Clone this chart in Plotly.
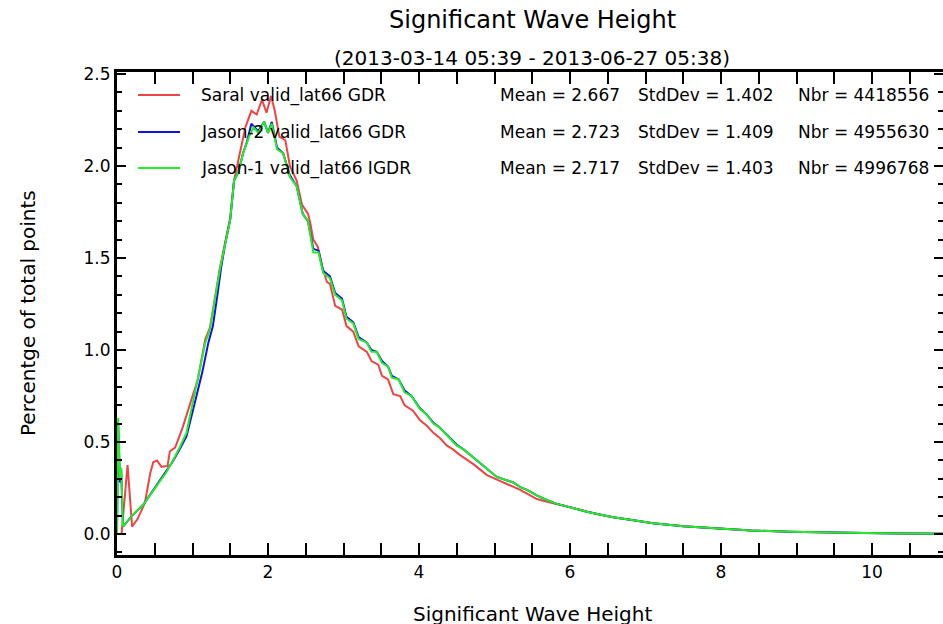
import plotly.graph_objects as go

# ---------------- data ----------------
saral_x = [0.0, 0.06, 0.14, 0.2, 0.27, 0.37, 0.44, 0.48, 0.53, 0.59, 0.67, 0.70, 0.77, 0.87, 0.97,
           1.07, 1.17, 1.23, 1.30, 1.36, 1.43, 1.50, 1.55, 1.62, 1.70, 1.78, 1.85, 1.92, 1.98, 2.04,
           2.09, 2.15, 2.23, 2.29, 2.38, 2.45, 2.53, 2.56, 2.60, 2.66, 2.72, 2.78, 2.82, 2.89, 2.98,
           3.04, 3.13, 3.20, 3.31, 3.37, 3.46, 3.51, 3.59, 3.66, 3.75, 3.81, 3.92, 4.01, 4.10, 4.19,
           4.28, 4.37, 4.45, 4.54, 4.63, 4.72, 4.81, 4.90, 5.01, 5.12, 5.23, 5.34, 5.45, 5.56, 5.67,
           5.78, 5.96, 6.1, 6.22, 6.4, 6.57, 6.8, 7.1, 7.5, 8.0, 8.4, 8.9, 9.4, 9.9, 10.4, 10.95]
saral_y = [0.0, 0.0, 0.375, 0.04, 0.08, 0.17, 0.33, 0.39, 0.40, 0.365, 0.37, 0.45, 0.47, 0.58, 0.71,
           0.84, 1.06, 1.12, 1.29, 1.44, 1.58, 1.72, 1.92, 2.06, 2.21, 2.30, 2.28, 2.36, 2.29, 2.38,
           2.30, 2.16, 2.14, 2.00, 1.92, 1.79, 1.74, 1.69, 1.60, 1.56, 1.45, 1.37, 1.36, 1.24, 1.22,
           1.13, 1.10, 1.02, 0.99, 0.94, 0.92, 0.86, 0.84, 0.76, 0.75, 0.70, 0.67, 0.62, 0.59, 0.55,
           0.52, 0.48, 0.46, 0.43, 0.405, 0.38, 0.35, 0.32, 0.30, 0.28, 0.26, 0.24, 0.215, 0.19, 0.178,
           0.167, 0.148, 0.135, 0.121, 0.105, 0.091, 0.077, 0.058, 0.042, 0.027, 0.019, 0.013, 0.008, 0.005, 0.003, 0.002]

jason2_x = [0.0, 0.015, 0.04, 0.055, 0.08, 0.2, 0.35, 0.45, 0.57, 0.66, 0.74, 0.83, 0.92, 1.01,
            1.08, 1.13, 1.21, 1.27, 1.33, 1.38, 1.43, 1.50, 1.55, 1.61, 1.67, 1.72, 1.78, 1.87, 1.95,
            2.00, 2.05, 2.12, 2.20, 2.29, 2.38, 2.46, 2.53, 2.56, 2.60, 2.67, 2.73, 2.82, 2.89, 2.98,
            3.04, 3.13, 3.20, 3.31, 3.37, 3.44, 3.51, 3.59, 3.64, 3.73, 3.81, 3.90, 4.01, 4.10, 4.19,
            4.27, 4.34, 4.42, 4.50, 4.59, 4.68, 4.77, 4.85, 4.94, 5.03, 5.14, 5.25, 5.34, 5.43, 5.56,
            5.69, 5.82, 5.96, 6.1, 6.22, 6.4, 6.57, 6.8, 7.1, 7.5, 8.0, 8.4, 8.9, 9.4, 9.9, 10.4, 10.95]
jason2_y = [0.0, 0.60, 0.28, 0.35, 0.04, 0.10, 0.16, 0.22, 0.29, 0.34, 0.395, 0.46, 0.53, 0.68,
            0.79, 0.88, 1.04, 1.13, 1.30, 1.45, 1.57, 1.71, 1.92, 1.97, 2.07, 2.13, 2.23, 2.19, 2.24,
            2.18, 2.24, 2.10, 2.07, 1.95, 1.89, 1.74, 1.70, 1.63, 1.55, 1.54, 1.43, 1.40, 1.31, 1.28,
            1.18, 1.15, 1.07, 1.04, 1.00, 0.99, 0.94, 0.91, 0.86, 0.84, 0.78, 0.75, 0.685, 0.65, 0.605,
            0.58, 0.55, 0.52, 0.485, 0.46, 0.43, 0.40, 0.37, 0.345, 0.31, 0.295, 0.28, 0.255, 0.24, 0.21,
            0.185, 0.165, 0.148, 0.135, 0.121, 0.105, 0.091, 0.077, 0.058, 0.042, 0.027, 0.019, 0.013, 0.008, 0.005, 0.003, 0.002]

jason1_x = [0.0, 0.015, 0.04, 0.055, 0.08, 0.2, 0.35, 0.45, 0.57, 0.66, 0.74, 0.83, 0.92, 1.01,
            1.07, 1.17, 1.23, 1.30, 1.36, 1.43, 1.50, 1.55, 1.61, 1.67, 1.76, 1.81, 1.87, 1.95, 2.00,
            2.05, 2.12, 2.20, 2.29, 2.38, 2.46, 2.53, 2.56, 2.60, 2.67, 2.73, 2.82, 2.89, 2.98, 3.04,
            3.13, 3.20, 3.31, 3.37, 3.44, 3.51, 3.59, 3.64, 3.73, 3.81, 3.90, 4.01, 4.10, 4.19, 4.27,
            4.34, 4.42, 4.50, 4.59, 4.68, 4.77, 4.85, 4.94, 5.03, 5.14, 5.25, 5.34, 5.43, 5.56, 5.69,
            5.82, 5.96, 6.1, 6.22, 6.4, 6.57, 6.8, 7.1, 7.5, 8.0, 8.4, 8.9, 9.4, 9.9, 10.4, 10.95]
jason1_y = [0.0, 0.63, 0.30, 0.36, 0.04, 0.10, 0.16, 0.22, 0.29, 0.34, 0.40, 0.47, 0.55, 0.73,
            0.84, 1.04, 1.11, 1.29, 1.43, 1.57, 1.71, 1.92, 1.97, 2.07, 2.17, 2.21, 2.18, 2.24, 2.18,
            2.23, 2.09, 2.07, 1.94, 1.89, 1.74, 1.70, 1.63, 1.53, 1.53, 1.42, 1.39, 1.30, 1.27, 1.17,
            1.145, 1.06, 1.04, 0.99, 0.99, 0.93, 0.91, 0.85, 0.84, 0.77, 0.75, 0.68, 0.65, 0.60, 0.58,
            0.55, 0.52, 0.48, 0.46, 0.43, 0.40, 0.37, 0.345, 0.31, 0.295, 0.28, 0.255, 0.24, 0.21, 0.185,
            0.165, 0.148, 0.135, 0.121, 0.105, 0.091, 0.077, 0.058, 0.042, 0.027, 0.019, 0.013, 0.008, 0.005, 0.003, 0.002]

series_names = ["Saral valid_lat66 GDR", "Jason-2 valid_lat66 GDR", "Jason-1 valid_lat66 IGDR"]
series_mean = ["2.667", "2.723", "2.717"]
series_std = ["1.402", "1.409", "1.403"]
series_nbr = ["4418556", "4955630", "4996768"]
colors = ["#f04444", "#1010f0", "#22ee22"]

xs = [saral_x, jason2_x, jason1_x]
ys = [saral_y, jason2_y, jason1_y]
yaxes = ["y", "y", "y2"]   # the top-most series also carries the right-hand (tick-only) axis

W, H = 943, 624
ML, MR, MT, MB = 117, 0, 72, 69
FONT = "DejaVu Sans"
X_RANGE = [0, 10.94]
Y_RANGE = [-0.114, 2.511]

fig = go.Figure()
for x, y, n, c, ya in zip(xs, ys, series_names, colors, yaxes):
    fig.add_trace(go.Scatter(x=x, y=y, mode="lines", name=n, yaxis=ya,
                             line=dict(color=c, width=2), showlegend=False))

pw = W - ML - MR
ph = H - MT - MB
def px2paper_x(px):
    return (px - ML) / pw
def px2paper_y(py):
    return (H - MB - py) / ph

# legend rows
row_y = [95, 132, 168]
for i in range(3):
    yy = px2paper_y(row_y[i])
    fig.add_shape(type="line", xref="paper", yref="paper",
                  x0=px2paper_x(138), x1=px2paper_x(180), y0=yy, y1=yy,
                  line=dict(color=colors[i], width=2))
    fig.add_annotation(xref="paper", yref="paper", x=px2paper_x(199), y=yy,
                       text=series_names[i], showarrow=False, xanchor="left", yanchor="middle",
                       font=dict(family=FONT, size=17, color="black"))
    for txt, xp in [("Mean = " + series_mean[i], 498), ("StdDev = " + series_std[i], 636),
                    ("Nbr = " + series_nbr[i], 796)]:
        fig.add_annotation(xref="paper", yref="paper", x=px2paper_x(xp), y=yy,
                           text=txt, showarrow=False, xanchor="left", yanchor="middle",
                           font=dict(family=FONT, size=17, color="black"))

cx = px2paper_x(532)
fig.add_annotation(xref="paper", yref="paper", x=cx, y=px2paper_y(20),
                   text="Significant Wave Height", showarrow=False, xanchor="center", yanchor="middle",
                   font=dict(family=FONT, size=24, color="black"))
fig.add_annotation(xref="paper", yref="paper", x=cx, y=px2paper_y(58),
                   text="(2013-03-14 05:39 - 2013-06-27 05:38)", showarrow=False,
                   xanchor="center", yanchor="middle",
                   font=dict(family=FONT, size=20, color="black"))
fig.add_annotation(xref="paper", yref="paper", x=cx, y=px2paper_y(614),
                   text="Significant Wave Height", showarrow=False, xanchor="center", yanchor="middle",
                   font=dict(family=FONT, size=20, color="black"))
fig.add_annotation(xref="paper", yref="paper", x=px2paper_x(28), y=px2paper_y(313),
                   text="Percentge of total points", showarrow=False, textangle=-90,
                   xanchor="center", yanchor="middle",
                   font=dict(family=FONT, size=20, color="black"))

tickfont = dict(family=FONT, size=17, color="black")
fig.update_layout(
    xaxis=dict(range=X_RANGE, tick0=0, dtick=2, ticklen=12, showgrid=False, zeroline=False,
               showline=True, linecolor="black", linewidth=3, mirror="allticks",
               ticks="inside", tickcolor="black", tickwidth=2, tickfont=tickfont,
               minor=dict(ticks="inside", dtick=0.5, ticklen=6, tickwidth=2, tickcolor="black")),
    yaxis=dict(range=Y_RANGE, tick0=0, dtick=0.5, ticklen=9, tickformat=".1f", showgrid=False,
               zeroline=False, showline=True, linecolor="black", linewidth=3, mirror=False,
               ticks="inside", tickcolor="black", tickwidth=2, tickfont=tickfont,
               minor=dict(ticks="inside", dtick=0.1, ticklen=5, tickwidth=2, tickcolor="black")),
    yaxis2=dict(range=Y_RANGE, overlaying="y", side="right", tick0=0, dtick=0.5, ticklen=9,
                showgrid=False, zeroline=False, showline=False, showticklabels=False,
                ticks="inside", tickcolor="black", tickwidth=2,
                minor=dict(ticks="inside", dtick=0.1, ticklen=5, tickwidth=2, tickcolor="black")),
    width=W, height=H, margin=dict(l=ML, r=MR, t=MT, b=MB),
    plot_bgcolor="white", paper_bgcolor="white",
    font=dict(family=FONT, color="black"))

fig.write_html("out.html")
